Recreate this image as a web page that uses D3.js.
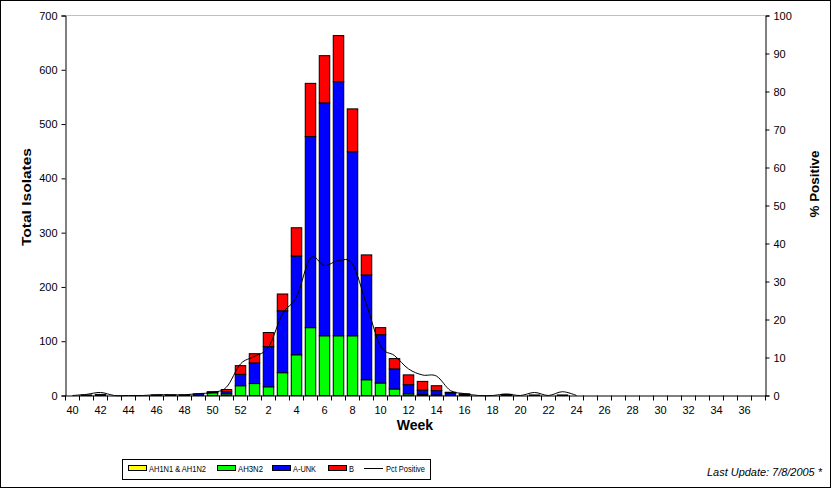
<!DOCTYPE html>
<html>
<head>
<meta charset="utf-8">
<script src="https://cdn.jsdelivr.net/npm/d3@7"></script>
<style>
  body { margin: 0; background: #fff; }
  svg text { font-family: "Liberation Sans", Arial, sans-serif; fill: #000; }
</style>
</head>
<body>
<div class="chart-wrapper"></div>
<script>

// weeks of the 2004-05 season, one bar each
const weeks = [40, 41, 42, 43, 44, 45, 46, 47, 48, 49, 50, 51, 52,
  1, 2, 3, 4, 5, 6, 7, 8, 9, 10, 11, 12, 13, 14, 15, 16, 17, 18, 19, 20,
  21, 22, 23, 24, 25, 26, 27, 28, 29, 30, 31, 32, 33, 34, 35, 36, 37]

const ah1 = [0, 0, 0, 0, 0, 0, 0, 0, 0, 0, 0, 0, 0,
  0, 0, 0, 0, 0, 0, 0, 0, 0, 0, 0, 0, 0, 0, 0, 0, 0, 0, 0, 0,
  0, 0, 0, 0, 0, 0, 0, 0, 0, 0, 0, 0, 0, 0, 0, 0, 0]

const ah3 = [0, 0, 0, 0, 0, 0, 0, 0, 0, 0, 5, 3, 18,
  22, 16, 42, 75, 125, 110, 110, 110, 29, 23, 12, 3, 2, 1, 0, 0, 0, 0, 0, 0,
  0, 0, 0, 0, 0, 0, 0, 0, 0, 0, 0, 0, 0, 0, 0, 0, 0]

const aUnk = [0, 1, 2, 0, 0, 0, 1, 1, 1, 3, 1, 4, 21,
  38, 74, 114, 182, 352, 429, 468, 339, 193, 89, 37, 17, 8, 8, 5, 2, 0, 0, 2, 0,
  1, 0, 1, 0, 0, 0, 0, 0, 0, 0, 0, 0, 0, 0, 0, 0, 0]

const fluB = [0, 0, 0, 0, 0, 0, 0, 0, 0, 0, 1, 4, 16,
  17, 26, 31, 52, 98, 87, 85, 79, 37, 13, 19, 18, 16, 9, 1, 1, 0, 0, 0, 0,
  0, 0, 0, 0, 0, 0, 0, 0, 0, 0, 0, 0, 0, 0, 0, 0, 0]

const pctPositive = [0, 0.3, 0.8, 0, 0, 0, 0.2, 0.2, 0.2, 0.5, 0.8, 2.2, 8.3,
  10.3, 12.7, 21.5, 25.9, 36.2, 34.2, 35.5, 34.6, 24, 13, 10.5, 7, 5.4, 5.1, 1.3, 0.5, 0, 0, 0.4, 0,
  0.8, 0, 1, 0, null, null, null, null, null, null, null, null, null, null, null, null, null]

const leftTicks = [0, 100, 200, 300, 400, 500, 600, 700]
const rightTicks = [0, 10, 20, 30, 40, 50, 60, 70, 80, 90, 100]

const seriesKeys = ['ah1', 'ah3', 'aUnk', 'fluB']
const seriesNames = ['AH1N1 & AH1N2', 'AH3N2', 'A-UNK', 'B']
const colors = ['#ffff00', '#00ff00', '#0000ff', '#ff0000']

const width = 831
const height = 488

const svg = d3.select('.chart-wrapper')
.append('svg')
.attr('width', width)
.attr('height', height)

// outer frame
svg.append('rect')
.attr('x', 0.5)
.attr('y', 0.5)
.attr('width', width - 1)
.attr('height', height - 1)
.attr('fill', '#fff')
.attr('stroke', '#000')

const x = d3.scaleBand()
.domain(weeks)
.range([65.5, 765.5])
.paddingInner(0.25)
.paddingOuter(0.125)

const y = d3.scaleLinear()
.domain([0, 700])
.range([395.5, 15.5])

const y2 = d3.scaleLinear()
.domain([0, 100])
.range([395.5, 15.5])

// top gridline
svg.append('line')
.attr('x1', 65.5).attr('x2', 765.5)
.attr('y1', y(700)).attr('y2', y(700))
.attr('stroke', '#c0c0c0')

const table = weeks.map((w, i) => ({week: w, ah1: ah1[i], ah3: ah3[i], aUnk: aUnk[i], fluB: fluB[i]}))
const stacked = d3.stack().keys(seriesKeys)(table)

svg.append('g')
.selectAll('g')
.data(stacked)
.enter()
.append('g')
.attr('fill', (d, i) => colors[i])
.selectAll('rect')
.data(d => d.filter(s => s[1] - s[0] > 0))
.enter()
.append('rect')
.attr('x', d => x(d.data.week))
.attr('width', x.bandwidth())
.attr('y', d => y(d[1]))
.attr('height', d => y(d[0]) - y(d[1]))
.attr('stroke', '#000')
.attr('stroke-width', 1)

// pct positive line
const line = d3.line()
.defined(d => d.v !== null)
.x(d => x(d.week) + x.bandwidth() / 2)
.y(d => y2(d.v))
.curve(d3.curveCardinal.tension(0))

svg.append('path')
.datum(weeks.map((w, i) => ({week: w, v: pctPositive[i]})))
.attr('d', line)
.attr('fill', 'none')
.attr('stroke', '#000')
.attr('stroke-width', 1)

// axes
svg.append('g')
.attr('transform', 'translate(65.5,0)')
.call(d3.axisLeft(y).tickValues(leftTicks).tickSizeOuter(0).tickSize(4).tickPadding(4))

svg.append('g')
.attr('transform', 'translate(765.5,0)')
.call(d3.axisRight(y2).tickValues(rightTicks).tickSizeOuter(0).tickSize(4).tickPadding(4))

const bottomAxis = svg.append('g')
.attr('transform', 'translate(0,395.5)')
.call(d3.axisBottom(x).tickSize(0).tickSizeOuter(0).tickPadding(11)
  .tickFormat((d, i) => i % 2 === 0 ? d : ''))

// bottom ticks sit on the category boundaries
bottomAxis.selectAll('.boundary')
.data(weeks.concat(['end']))
.enter()
.append('line')
.attr('x1', (d, i) => 65.5 + i * x.step())
.attr('x2', (d, i) => 65.5 + i * x.step())
.attr('y1', 0)
.attr('y2', 5)
.attr('stroke', '#000')

svg.selectAll('.domain').attr('stroke', '#000')
svg.selectAll('.tick line').attr('stroke', '#000')
svg.selectAll('.tick text')
.style('font-family', '"Liberation Sans", Arial, sans-serif')
.style('font-size', '11px')
.attr('fill', '#000')

// axis titles
svg.append('text')
.attr('transform', 'translate(31,197) rotate(-90)')
.attr('text-anchor', 'middle')
.attr('textLength', 98)
.attr('lengthAdjust', 'spacingAndGlyphs')
.style('font-size', '13px')
.style('font-weight', 'bold')
.text('Total Isolates')

svg.append('text')
.attr('transform', 'translate(819,184) rotate(-90)')
.attr('text-anchor', 'middle')
.attr('textLength', 67)
.attr('lengthAdjust', 'spacingAndGlyphs')
.style('font-size', '13px')
.style('font-weight', 'bold')
.text('% Positive')

svg.append('text')
.attr('x', 415)
.attr('y', 430)
.attr('text-anchor', 'middle')
.style('font-size', '14px')
.style('font-weight', 'bold')
.text('Week')

// legend
const legend = svg.append('g')

legend.append('rect')
.attr('x', 122.5).attr('y', 459.5)
.attr('width', 308).attr('height', 20)
.attr('fill', '#fff')
.attr('stroke', '#000')

const swatchX = [128, 217, 272, 328]
const labelWidths = [57, 25, 23, 5]

seriesNames.forEach((name, i) => {
	legend.append('rect')
	.attr('x', swatchX[i] + 0.5).attr('y', 465.5)
	.attr('width', 18).attr('height', 5)
	.attr('fill', colors[i])
	.attr('stroke', '#000')

	legend.append('text')
	.attr('x', swatchX[i] + 21)
	.attr('y', 472)
	.attr('textLength', labelWidths[i])
	.attr('lengthAdjust', 'spacingAndGlyphs')
	.style('font-size', '9px')
	.text(name)
})

legend.append('line')
.attr('x1', 364).attr('x2', 383)
.attr('y1', 468.5).attr('y2', 468.5)
.attr('stroke', '#000')

legend.append('text')
.attr('x', 386)
.attr('y', 472)
.attr('textLength', 39)
.attr('lengthAdjust', 'spacingAndGlyphs')
.style('font-size', '9px')
.text('Pct Positive')

svg.append('text')
.attr('x', 822)
.attr('y', 476)
.attr('text-anchor', 'end')
.attr('textLength', 115)
.attr('lengthAdjust', 'spacingAndGlyphs')
.style('font-size', '10px')
.style('font-style', 'italic')
.text('Last Update: 7/8/2005 *')

</script>
</body>
</html>
